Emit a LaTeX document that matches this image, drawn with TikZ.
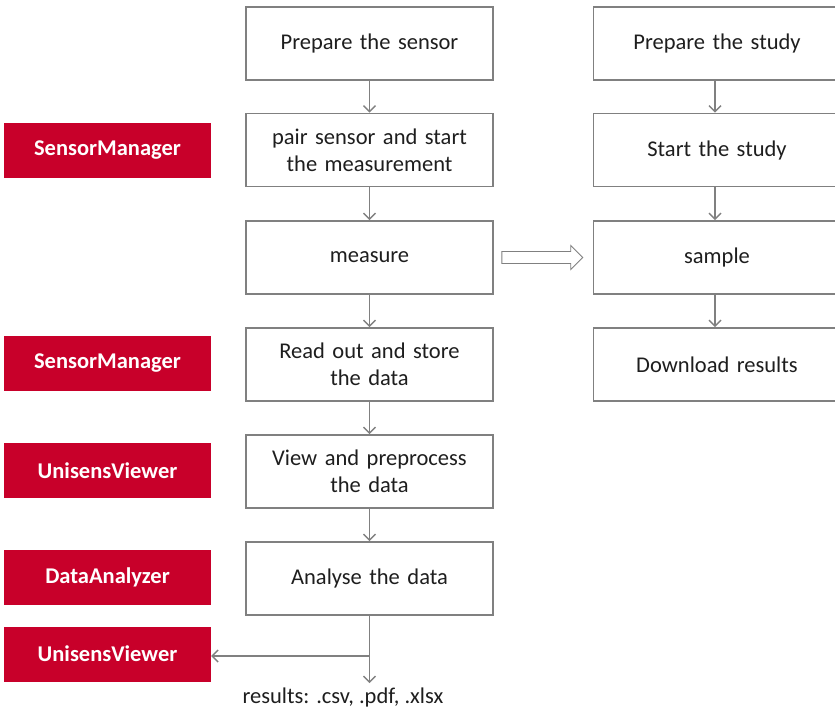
\documentclass[tikz,border=0pt]{standalone}
\usepackage{fontspec}
\setmainfont{Carlito}
\usetikzlibrary{arrows.meta}
\definecolor{tool}{RGB}{200,0,42}
\definecolor{frame}{RGB}{128,128,128}
\definecolor{txt}{RGB}{30,30,30}
\begin{document}
\begin{tikzpicture}[x=1pt,y=-1pt,
  stepbox/.style={draw=frame,line width=1.6pt,fill=white,minimum width=247pt,minimum height=73pt,text width=240pt,align=center,font=\fontsize{22.5}{27}\selectfont,text=txt,inner sep=0pt},
  toolbox/.style={fill=tool,minimum width=207pt,minimum height=55pt,inner sep=0pt,text=white,font=\fontsize{22.5}{27}\selectfont\bfseries},
  flow/.style={draw=frame,line width=1.4pt,-{Straight Barb[length=6pt,width=12pt]}}]
\useasboundingbox (0,0) rectangle (835,712);
\begin{scope}
\clip (0,0) rectangle (835,712);
% left column
\node[stepbox] (s1) at (369.5,43.5) {Prepare the sensor};
\node[stepbox] (s2) at (369.5,150) {pair sensor and start\\the measurement};
\node[stepbox] (s3) at (369.5,257.5) {measure};
\node[stepbox] (s4) at (369.5,364.5) {Read out and store\\the data};
\node[stepbox] (s5) at (369.5,471.5) {View and preprocess\\the data};
\node[stepbox] (s6) at (369.5,578.5) {Analyse the data};
% right column
\node[stepbox] (r1) at (717,43.5) {Prepare the study};
\node[stepbox] (r2) at (717,150) {Start the study};
\node[stepbox] (r3) at (717,257.5) {sample};
\node[stepbox] (r4) at (717,364.5) {Download results};
\end{scope}
% tools
\node[toolbox] (t1) at (107.5,150) {SensorManager};
\node[toolbox] (t2) at (107.5,363.5) {SensorManager};
\node[toolbox] (t3) at (107.5,470.5) {UnisensViewer};
\node[toolbox] (t4) at (107.5,577.5) {DataAnalyzer};
\node[toolbox] (t5) at (107.5,654) {UnisensViewer};
% results
\node[font=\fontsize{22.5}{27}\selectfont,text=txt,anchor=center] (res) at (343,697) {results: .csv, .pdf, .xlsx};
\coordinate (branch) at (369.5,656);
% connectors
\draw[flow] (s1) -- (s2);
\draw[flow] (s2) -- (s3);
\draw[flow] (s3) -- (s4);
\draw[flow] (s4) -- (s5);
\draw[flow] (s5) -- (s6);
\draw[flow] (s6.south) -- (369.5,683);
\draw[flow] (branch) -- (branch -| t5.east);
\draw[flow] (r1.south -| 715,0) -- (r2.north -| 715,0);
\draw[flow] (r2.south -| 715,0) -- (r3.north -| 715,0);
\draw[flow] (r3.south -| 715,0) -- (r4.north -| 715,0);
% hollow arrow from measure to sample
\draw[draw=frame,line width=0.9pt,fill=white,line join=miter]
  ([shift={(8,-6)}]s3.east) -- ([shift={(-22,-6)}]r3.west) -- ([shift={(-22,-12)}]r3.west)
  -- ([shift={(-10,0)}]r3.west) -- ([shift={(-22,12)}]r3.west) -- ([shift={(-22,6)}]r3.west)
  -- ([shift={(8,6)}]s3.east) -- cycle;
\end{tikzpicture}
\end{document}
